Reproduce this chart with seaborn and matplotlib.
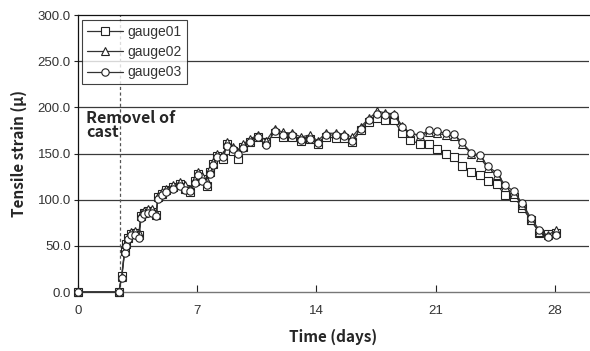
import matplotlib
matplotlib.use("Agg")
import matplotlib.pyplot as plt
import seaborn as sns
import pandas as pd

days = [0, 2.4, 2.57, 2.74, 2.84, 2.94, 3.13, 3.33, 3.58, 3.71, 3.87, 4.1, 4.35, 4.6,
        4.7, 4.94, 5.2, 5.6, 6.0, 6.3, 6.6, 6.9, 7.08, 7.3, 7.56, 7.76, 7.95, 8.15,
        8.53, 8.73, 9.12, 9.4, 9.7, 10.1, 10.6, 11.06, 11.55, 12.04, 12.6, 13.1, 13.6,
        14.08, 14.56, 15.15, 15.6, 16.1, 16.6, 17.1, 17.58, 18.06, 18.55, 19.04, 19.5,
        20.1, 20.6, 21.08, 21.6, 22.1, 22.55, 23.1, 23.6, 24.08, 24.6, 25.07, 25.6,
        26.1, 26.6, 27.1, 27.6, 28.1]

gauge01 = [0, 0, 17, 44, 52, 58, 63, 64, 62, 82, 86, 88, 87, 83,
           103, 106, 110, 114, 117, 112, 108, 120, 128, 122, 115, 130, 139, 147,
           144, 160, 153, 144, 157, 163, 168, 162, 172, 168, 168, 164, 166,
           160, 168, 167, 167, 162, 175, 184, 188, 186, 186, 172, 165,
           160, 160, 155, 149, 146, 136, 130, 127, 120, 117, 105, 103,
           91, 78, 64, 63, 64]

gauge02 = [0, 0, 16, 45, 53, 60, 65, 66, 64, 84, 88, 90, 90, 86,
           104, 108, 112, 116, 119, 116, 112, 122, 130, 126, 120, 133, 141, 150,
           148, 162, 157, 152, 160, 166, 170, 164, 177, 173, 172, 168, 170,
           164, 172, 172, 171, 168, 179, 188, 196, 194, 193, 180, 172,
           169, 173, 172, 170, 169, 160, 150, 146, 134, 127, 114, 106,
           94, 78, 65, 62, 67]

gauge03 = [0, 0, 15, 42, 50, 57, 62, 62, 58, 80, 84, 86, 86, 82,
           101, 105, 108, 112, 115, 110, 109, 118, 127, 120, 116, 128, 138, 146,
           146, 158, 155, 150, 156, 162, 168, 159, 174, 170, 170, 165, 166,
           161, 170, 170, 169, 164, 177, 186, 193, 192, 192, 179, 172,
           170, 175, 174, 172, 171, 162, 151, 148, 136, 129, 116, 109,
           96, 80, 67, 60, 62]

series = {"gauge01": (gauge01, "s"), "gauge02": (gauge02, "^"), "gauge03": (gauge03, "o")}

yticks = [0, 50, 100, 150, 200, 250, 300]
xticks = [0, 7, 14, 21, 28]
cast_day = 2.5

sns.set_theme(style="white")
plt.rcParams["font.family"] = ["Liberation Sans", "DejaVu Sans"]

fig = plt.figure(figsize=(5.9, 3.51), dpi=100)
ax = fig.add_axes([0.132, 0.168, 0.866, 0.789])

for y in yticks[1:-1]:
    ax.axhline(y, color="#3a3a3a", lw=0.9, zorder=0)

ax.plot([cast_day, cast_day], [0, 300], ls=(0, (2.5, 2)), color="#555555", lw=0.9, zorder=1)

for name, (vals, mk) in series.items():
    df = pd.DataFrame({"day": days, "val": vals})
    sns.lineplot(data=df, x="day", y="val", ax=ax, color="#333333", lw=0.9,
                 marker=mk, markersize=5.3 if mk != "^" else 6,
                 markerfacecolor="white", markeredgecolor="#222222",
                 markeredgewidth=0.8, label=name, estimator=None, sort=False,
                 zorder=3, clip_on=False)

ax.set_xlim(0, 30)
ax.set_ylim(0, 300)
ax.set_xticks(xticks)
ax.set_yticks(yticks)
ax.set_yticklabels([f"{v:.1f}" for v in yticks])
ax.tick_params(axis="x", direction="in", length=5, width=0.8, color="#222222",
               labelsize=9.5, labelcolor="#333333", pad=9)
ax.tick_params(axis="y", direction="out", length=3, width=0.8, color="#222222",
               labelsize=9.5, labelcolor="#333333", pad=2)
ax.tick_params(axis="x", which="both", bottom=True)
ax.tick_params(axis="y", which="both", left=True)

for s in ["left", "top"]:
    ax.spines[s].set_color("#111111")
    ax.spines[s].set_linewidth(0.9)
ax.spines["bottom"].set_color("#777777")
ax.spines["bottom"].set_linewidth(1.0)
ax.spines["right"].set_visible(False)

lab_font = ["Noto Sans CJK KR", "DejaVu Sans"]
ax.set_xlabel("Time (days)", fontsize=11, fontweight="bold", family=lab_font, labelpad=9)
ax.set_ylabel("Tensile strain (μ)", fontsize=11, fontweight="bold", family=lab_font, labelpad=8)

ax.text(0.5, 197, "Removel of\ncast", fontsize=11.5, fontweight="bold", family=lab_font,
        va="top", ha="left", linespacing=0.85)

leg = ax.legend(loc="upper left", bbox_to_anchor=(0.009, 0.982), frameon=True,
                fancybox=False, edgecolor="#111111", fontsize=10, borderpad=0.35,
                labelspacing=0.45, handlelength=2.6, handletextpad=0.3, borderaxespad=0)
leg.get_frame().set_linewidth(0.8)
for t in leg.get_texts():
    t.set_color("#333333")

fig.savefig("out.png", dpi=100)
